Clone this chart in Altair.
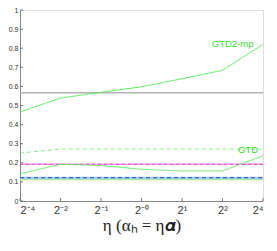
import altair as alt
import pandas as pd

x_idx = [0, 1, 2, 3, 4, 5, 6]
x_labels = ["2⁻⁴", "2⁻²", "2⁻¹", "2⁻⁰", "2¹", "2²", "2⁴"]

gray_base = [0.567] * 7
gtd2mp = [0.466, 0.539, 0.569, 0.598, 0.640, 0.684, 0.820]
gtd = [0.251, 0.272, 0.272, 0.272, 0.272, 0.272, 0.272]
green_low = [0.143, 0.192, 0.186, 0.166, 0.157, 0.157, 0.237]
pink = [0.192] * 7
magenta = [0.192] * 7
cyan = [0.120] * 7
blue = [0.122] * 7
green_flat = [0.115] * 7
yellow = [0.111] * 7
y_ticks = [0, 0.1, 0.2, 0.3, 0.4, 0.5, 0.6, 0.7, 0.8, 0.9, 1]

series = [
    ("yellow", yellow, "#f0ec90", [1, 0], 1.5),
    ("green_flat", green_flat, "#88ee88", [1, 0], 1.0),
    ("cyan", cyan, "#8fd8ff", [1, 0], 2.5),
    ("blue", blue, "#5555bb", [4, 3], 1.2),
    ("pink", pink, "#ff99dd", [1, 0], 1.5),
    ("magenta", magenta, "#dd44dd", [3, 3], 1.0),
    ("green_low", green_low, "#66ee66", [1, 0], 1.0),
    ("gtd", gtd, "#88ee88", [4, 3], 1.0),
    ("gray", gray_base, "#b4b4b4", [1, 0], 1.5),
    ("gtd2mp", gtd2mp, "#55ee55", [1, 0], 1.0),
]

W, H = 243, 191
xs = alt.Scale(domain=[0, 6], nice=False)
ys = alt.Scale(domain=[0, 1], nice=False)

label_expr = "[" + ",".join("'%s'" % l for l in x_labels) + "][datum.value]"

x_axis = alt.Axis(values=x_idx, labelExpr=label_expr, ticks=False,
                  grid=False, labelFontSize=11, labelPadding=3,
                  labelOverlap=False,
                  titleFont="Liberation Serif", titleFontSize=17,
                  titleFontWeight="normal", titlePadding=2,
                  labelFont="Liberation Sans", labelColor="#333",
                  domainColor="#888", titleColor="#222")
y_axis = alt.Axis(values=y_ticks, ticks=False, labelOverlap=False, tickCount=11,
                  grid=False, labelFontSize=7, labelPadding=2,
                  labelFont="Liberation Sans", labelColor="#333",
                  domainColor="#888",
                  labelExpr="datum.value == 0 ? '0' : datum.value == 1 ? '1' : format(datum.value, '.1f')")
X_TITLE = "η (αₕ = η𝜶)"


def xenc(field="x"):
    return alt.X(field + ":Q", scale=xs, title=X_TITLE, axis=x_axis)


def yenc(field="y"):
    return alt.Y(field + ":Q", scale=ys, title=None, axis=y_axis)


layers = []
for name, vals, color, dash, w in series:
    df = pd.DataFrame({"x": x_idx, "y": vals})
    layers.append(alt.Chart(df).mark_line(color=color, strokeDash=dash, strokeWidth=w)
                  .encode(x=xenc(), y=yenc()))

# inward ticks
ytick_df = pd.DataFrame({"y": y_ticks})
layers.append(alt.Chart(ytick_df).mark_rule(color="#777", strokeWidth=1).encode(
    y=yenc(), x=alt.value(0), x2=alt.value(3)))
xtick_df = pd.DataFrame({"x": x_idx})
layers.append(alt.Chart(xtick_df).mark_rule(color="#777", strokeWidth=1).encode(
    x=xenc(), y=alt.value(H), y2=alt.value(H - 3)))

text_df = pd.DataFrame({"x": [5.25, 5.63], "y": [0.82, 0.267], "t": ["GTD2-mp", "GTD"]})
layers.append(alt.Chart(text_df).mark_text(color="#33dd33", fontSize=9.5,
                                           font="Liberation Sans").encode(
    x=xenc(), y=yenc(), text="t:N"))

chart = alt.layer(*layers).properties(
    width=W, height=H,
    autosize=alt.AutoSizeParams(type="none"),
    padding={"left": 12, "top": 2, "right": 6, "bottom": 40},
).configure_view(stroke=None).configure(background="white")

chart.save("out.html", embed_options={"renderer": "svg", "actions": False})
